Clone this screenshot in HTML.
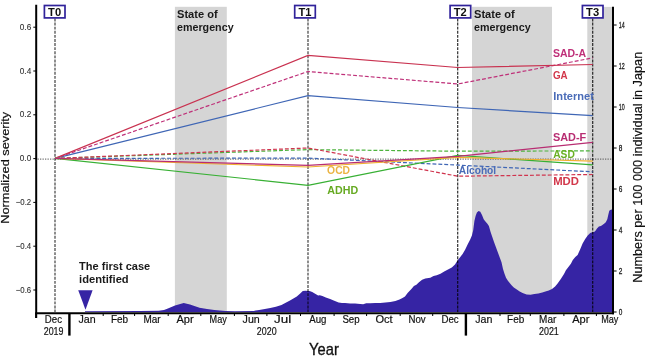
<!DOCTYPE html><html><head><meta charset="utf-8"><style>html,body{margin:0;padding:0;background:#fff;}svg{display:block;will-change:transform;}text{font-family:"Liberation Sans",sans-serif;}</style></head><body>
<svg width="645" height="356" viewBox="0 0 645 356">
<rect width="645" height="356" fill="#fff"/>
<rect x="174.9" y="6.8" width="51.9" height="305" fill="#d5d5d5"/>
<rect x="472" y="6.8" width="80" height="305" fill="#d5d5d5"/>
<rect x="587.3" y="6.9" width="24.8" height="305" fill="#d5d5d5"/>
<path d="M85.0,312.0 L85.0,311.2 L140.0,311.0 L158.6,310.8 L164.0,310.0 L167.9,308.6 L175.0,305.5 L183.7,303.0 L190.0,304.5 L199.5,307.7 L207.0,309.0 L214.4,310.0 L225.6,311.0 L235.0,311.2 L253.6,310.9 L259.2,310.0 L264.8,309.1 L270.3,308.1 L275.9,306.7 L281.5,304.9 L287.1,302.1 L290.0,300.6 L293.4,298.6 L296.8,296.5 L300.2,293.5 L302.8,291.1 L305.3,290.8 L309.6,291.0 L312.2,292.0 L315.6,294.0 L318.1,295.4 L319.8,295.2 L322.4,296.1 L325.8,297.4 L330.1,299.1 L334.3,300.8 L338.6,302.5 L342.0,303.1 L345.0,303.0 L350.1,303.4 L355.1,303.6 L360.2,304.0 L363.2,304.2 L366.2,303.3 L370.2,303.3 L375.3,303.1 L380.3,302.9 L385.4,302.6 L390.4,302.1 L395.4,301.1 L399.5,299.6 L402.5,298.1 L405.0,296.6 L407.6,292.9 L411.4,289.1 L413.9,286.0 L416.4,284.7 L419.0,282.2 L422.1,279.7 L425.3,278.4 L430.3,277.8 L433.5,275.9 L436.7,275.2 L440.5,273.7 L444.2,271.4 L448.0,269.5 L451.8,267.6 L455.0,264.6 L457.5,260.6 L460.1,257.3 L462.6,253.9 L465.1,249.7 L467.6,244.6 L470.2,239.6 L471.9,235.4 L473.2,230.3 L474.4,221.0 L475.6,216.0 L476.9,212.6 L478.6,210.9 L480.3,211.7 L482.0,215.1 L483.7,219.3 L485.0,221.0 L487.2,223.4 L488.9,226.0 L490.6,231.9 L492.3,236.9 L494.0,242.0 L496.5,248.7 L499.0,255.5 L501.5,262.2 L503.0,268.9 L504.5,273.8 L506.0,277.8 L507.9,280.7 L509.9,283.2 L511.8,285.6 L513.8,287.6 L516.8,289.6 L519.7,291.5 L522.6,293.0 L526.6,294.5 L530.5,294.7 L534.4,294.0 L538.4,293.5 L542.3,292.5 L546.2,291.3 L548.8,290.4 L552.0,288.9 L555.1,286.6 L557.6,283.4 L560.8,279.0 L564.0,274.0 L565.9,270.2 L568.4,267.0 L570.9,263.8 L572.8,260.1 L575.3,256.9 L577.6,255.0 L580.1,249.4 L582.6,243.5 L585.2,238.9 L587.7,235.5 L590.2,233.0 L592.3,232.2 L594.4,231.7 L595.3,230.9 L597.0,228.4 L598.9,226.6 L600.9,226.1 L602.4,225.1 L604.4,223.6 L605.8,222.2 L607.3,219.2 L608.3,214.8 L609.3,210.8 L610.3,209.9 L611.7,209.4 L612.5,209.4 L612.5,312.0 Z" fill="#3624a4"/>
<line x1="37.5" y1="159.1" x2="612" y2="159.1" stroke="#555" stroke-width="1" stroke-dasharray="1.3,1.2"/>
<line x1="55" y1="18.5" x2="55" y2="312" stroke="#000" stroke-opacity="0.62" stroke-width="1.45" stroke-dasharray="2.9,1.2"/>
<line x1="308" y1="18.5" x2="308" y2="312" stroke="#000" stroke-opacity="0.62" stroke-width="1.45" stroke-dasharray="2.9,1.2"/>
<line x1="457.7" y1="18.5" x2="457.7" y2="312" stroke="#000" stroke-opacity="0.82" stroke-width="1.2" stroke-dasharray="2.9,1.2"/>
<line x1="592.7" y1="18.5" x2="592.7" y2="312" stroke="#000" stroke-opacity="0.82" stroke-width="1.2" stroke-dasharray="2.9,1.2"/>
<polyline points="55,158.4 308,95.6 457.7,107.5 592.7,115.7" fill="none" stroke="#3f66b5" stroke-width="1.2"/>
<polyline points="55,158.4 308,71.5 457.7,84 592.7,57.9" fill="none" stroke="#bf3079" stroke-width="1.2" stroke-dasharray="3.9,2"/>
<polyline points="55,158.4 308,55.4 457.7,67.5 592.7,64.5" fill="none" stroke="#c93250" stroke-width="1.2"/>
<polyline points="55,158.4 308,149.6 457.7,151.2 592.7,150.9" fill="none" stroke="#4db33d" stroke-width="1.2" stroke-dasharray="3.9,2"/>
<polyline points="55,158.4 308,158.1 457.7,165.1 592.7,171.8" fill="none" stroke="#3f66b5" stroke-width="1.2" stroke-dasharray="3.9,2"/>
<polyline points="55,158.4 308,148 457.7,176.2 592.7,174.5" fill="none" stroke="#d0344e" stroke-width="1.2" stroke-dasharray="3.9,2"/>
<polyline points="55,158.4 308,185.3 457.7,155.3 592.7,164.9" fill="none" stroke="#38b034" stroke-width="1.2"/>
<polyline points="55,158.4 308,167 457.7,157.3 592.7,161.2" fill="none" stroke="#f0b030" stroke-width="1.2"/>
<polyline points="55,158.4 308,165.4 457.7,156.3 592.7,142.4" fill="none" stroke="#b82d72" stroke-width="1.2"/>
<text x="552.9" y="56.9" font-size="10.4" font-weight="bold" fill="#bf3079" textLength="33.3" lengthAdjust="spacingAndGlyphs">SAD-A</text>
<text x="552.9" y="79.0" font-size="10.4" font-weight="bold" fill="#d2374a" textLength="14.7" lengthAdjust="spacingAndGlyphs">GA</text>
<text x="553.3" y="100.4" font-size="10.4" font-weight="bold" fill="#4a6cb8" textLength="40.6" lengthAdjust="spacingAndGlyphs">Internet</text>
<text x="552.9" y="141.0" font-size="10.4" font-weight="bold" fill="#b82d72" textLength="33.3" lengthAdjust="spacingAndGlyphs">SAD-F</text>
<text x="553.2" y="157.6" font-size="10.4" font-weight="bold" fill="#6ab023" textLength="21.6" lengthAdjust="spacingAndGlyphs">ASD</text>
<text x="327.1" y="174.0" font-size="10.4" font-weight="bold" fill="#ebb444" textLength="23.0" lengthAdjust="spacingAndGlyphs">OCD</text>
<text x="327.3" y="193.7" font-size="10.4" font-weight="bold" fill="#66aa22" textLength="30.9" lengthAdjust="spacingAndGlyphs">ADHD</text>
<text x="458.8" y="174.1" font-size="10.4" font-weight="bold" fill="#4a6cb8" textLength="37.4" lengthAdjust="spacingAndGlyphs">Alcohol</text>
<text x="553.2" y="185.0" font-size="10.4" font-weight="bold" fill="#d2374a" textLength="25.8" lengthAdjust="spacingAndGlyphs">MDD</text>
<text x="177" y="17.6" font-size="10.2" font-weight="bold" fill="#1a1a1a" textLength="40.7" lengthAdjust="spacingAndGlyphs">State of</text>
<text x="177" y="30.5" font-size="10.2" font-weight="bold" fill="#1a1a1a" textLength="56.6" lengthAdjust="spacingAndGlyphs">emergency</text>
<text x="474" y="17.6" font-size="10.2" font-weight="bold" fill="#1a1a1a" textLength="40.7" lengthAdjust="spacingAndGlyphs">State of</text>
<text x="474" y="30.5" font-size="10.2" font-weight="bold" fill="#1a1a1a" textLength="56.6" lengthAdjust="spacingAndGlyphs">emergency</text>
<rect x="44.4" y="5.5" width="20.6" height="12.4" fill="#fff" stroke="#30229a" stroke-width="1.7"/>
<text x="54.6" y="15.8" font-size="10" font-weight="bold" fill="#111" text-anchor="middle" textLength="13" lengthAdjust="spacingAndGlyphs">T0</text>
<rect x="294.7" y="5.5" width="20.6" height="12.4" fill="#fff" stroke="#30229a" stroke-width="1.7"/>
<text x="304.9" y="15.8" font-size="10" font-weight="bold" fill="#111" text-anchor="middle" textLength="13" lengthAdjust="spacingAndGlyphs">T1</text>
<rect x="450.1" y="5.5" width="20.6" height="12.4" fill="#fff" stroke="#30229a" stroke-width="1.7"/>
<text x="460.3" y="15.8" font-size="10" font-weight="bold" fill="#111" text-anchor="middle" textLength="13" lengthAdjust="spacingAndGlyphs">T2</text>
<rect x="582.4" y="5.5" width="20.6" height="12.4" fill="#fff" stroke="#30229a" stroke-width="1.7"/>
<text x="592.6" y="15.8" font-size="10" font-weight="bold" fill="#111" text-anchor="middle" textLength="13" lengthAdjust="spacingAndGlyphs">T3</text>
<text x="79.1" y="269.6" font-size="10.2" font-weight="bold" fill="#1a1a1a" textLength="71.1" lengthAdjust="spacingAndGlyphs">The first case</text>
<text x="79.1" y="282.5" font-size="10.2" font-weight="bold" fill="#1a1a1a" textLength="49.6" lengthAdjust="spacingAndGlyphs">identified</text>
<path d="M78.2,290.2 L92.6,290.2 L85.5,309.8 Z" fill="#3624a4"/>
<line x1="36.2" y1="4.8" x2="36.2" y2="318" stroke="#000" stroke-width="2"/>
<line x1="613" y1="6.8" x2="613" y2="314.2" stroke="#000" stroke-width="2"/>
<line x1="35.2" y1="313.2" x2="614" y2="313.2" stroke="#000" stroke-width="2"/>
<line x1="33.3" y1="27.2" x2="36" y2="27.2" stroke="#000" stroke-width="1"/>
<text x="19.8" y="29.8" font-size="8.9" fill="#333" stroke="#333" stroke-width="0.12" textLength="11.4" lengthAdjust="spacingAndGlyphs">0.6</text>
<line x1="33.3" y1="71.0" x2="36" y2="71.0" stroke="#000" stroke-width="1"/>
<text x="19.8" y="73.6" font-size="8.9" fill="#333" stroke="#333" stroke-width="0.12" textLength="11.4" lengthAdjust="spacingAndGlyphs">0.4</text>
<line x1="33.3" y1="114.8" x2="36" y2="114.8" stroke="#000" stroke-width="1"/>
<text x="19.8" y="117.4" font-size="8.9" fill="#333" stroke="#333" stroke-width="0.12" textLength="11.4" lengthAdjust="spacingAndGlyphs">0.2</text>
<line x1="33.3" y1="158.6" x2="36" y2="158.6" stroke="#000" stroke-width="1"/>
<text x="19.8" y="161.2" font-size="8.9" fill="#333" stroke="#333" stroke-width="0.12" textLength="11.4" lengthAdjust="spacingAndGlyphs">0.0</text>
<line x1="33.3" y1="202.4" x2="36" y2="202.4" stroke="#000" stroke-width="1"/>
<text x="15.8" y="205.0" font-size="8.9" fill="#333" stroke="#333" stroke-width="0.12" textLength="15.4" lengthAdjust="spacingAndGlyphs">−0.2</text>
<line x1="33.3" y1="246.2" x2="36" y2="246.2" stroke="#000" stroke-width="1"/>
<text x="15.8" y="248.8" font-size="8.9" fill="#333" stroke="#333" stroke-width="0.12" textLength="15.4" lengthAdjust="spacingAndGlyphs">−0.4</text>
<line x1="33.3" y1="290.0" x2="36" y2="290.0" stroke="#000" stroke-width="1"/>
<text x="15.8" y="292.6" font-size="8.9" fill="#333" stroke="#333" stroke-width="0.12" textLength="15.4" lengthAdjust="spacingAndGlyphs">−0.6</text>
<line x1="613" y1="312.0" x2="616.6" y2="312.0" stroke="#000" stroke-width="1"/>
<text x="618.8" y="314.9" font-size="8.8" fill="#222" stroke="#222" stroke-width="0.3" textLength="3.6" lengthAdjust="spacingAndGlyphs">0</text>
<line x1="613" y1="271.0" x2="616.6" y2="271.0" stroke="#000" stroke-width="1"/>
<text x="618.8" y="273.9" font-size="8.8" fill="#222" stroke="#222" stroke-width="0.3" textLength="3.6" lengthAdjust="spacingAndGlyphs">2</text>
<line x1="613" y1="230.0" x2="616.6" y2="230.0" stroke="#000" stroke-width="1"/>
<text x="618.8" y="232.9" font-size="8.8" fill="#222" stroke="#222" stroke-width="0.3" textLength="3.6" lengthAdjust="spacingAndGlyphs">4</text>
<line x1="613" y1="189.0" x2="616.6" y2="189.0" stroke="#000" stroke-width="1"/>
<text x="618.8" y="191.9" font-size="8.8" fill="#222" stroke="#222" stroke-width="0.3" textLength="3.6" lengthAdjust="spacingAndGlyphs">6</text>
<line x1="613" y1="148.0" x2="616.6" y2="148.0" stroke="#000" stroke-width="1"/>
<text x="618.8" y="150.9" font-size="8.8" fill="#222" stroke="#222" stroke-width="0.3" textLength="3.6" lengthAdjust="spacingAndGlyphs">8</text>
<line x1="613" y1="107.0" x2="616.6" y2="107.0" stroke="#000" stroke-width="1"/>
<text x="618.8" y="109.9" font-size="8.8" fill="#222" stroke="#222" stroke-width="0.3" textLength="5.9" lengthAdjust="spacingAndGlyphs">10</text>
<line x1="613" y1="66.0" x2="616.6" y2="66.0" stroke="#000" stroke-width="1"/>
<text x="618.8" y="68.9" font-size="8.8" fill="#222" stroke="#222" stroke-width="0.3" textLength="5.9" lengthAdjust="spacingAndGlyphs">12</text>
<line x1="613" y1="25.0" x2="616.6" y2="25.0" stroke="#000" stroke-width="1"/>
<text x="618.8" y="27.9" font-size="8.8" fill="#222" stroke="#222" stroke-width="0.3" textLength="5.9" lengthAdjust="spacingAndGlyphs">14</text>
<text x="53.4" y="323.2" font-size="11.7" fill="#111" stroke="#111" stroke-width="0.2" text-anchor="middle" textLength="17.2" lengthAdjust="spacingAndGlyphs">Dec</text>
<line x1="69.4" y1="313" x2="69.4" y2="335.6" stroke="#000" stroke-width="2.4"/>
<text x="87.0" y="323.2" font-size="11.7" fill="#111" stroke="#111" stroke-width="0.2" text-anchor="middle" textLength="17.2" lengthAdjust="spacingAndGlyphs">Jan</text>
<line x1="103.2" y1="313" x2="103.2" y2="316" stroke="#000" stroke-width="1"/>
<text x="119.5" y="323.2" font-size="11.7" fill="#111" stroke="#111" stroke-width="0.2" text-anchor="middle" textLength="17.2" lengthAdjust="spacingAndGlyphs">Feb</text>
<line x1="134.6" y1="313" x2="134.6" y2="316" stroke="#000" stroke-width="1"/>
<text x="152.0" y="323.2" font-size="11.7" fill="#111" stroke="#111" stroke-width="0.2" text-anchor="middle" textLength="17.2" lengthAdjust="spacingAndGlyphs">Mar</text>
<line x1="168.2" y1="313" x2="168.2" y2="316" stroke="#000" stroke-width="1"/>
<text x="185.1" y="323.2" font-size="11.7" fill="#111" stroke="#111" stroke-width="0.2" text-anchor="middle" textLength="17.2" lengthAdjust="spacingAndGlyphs">Apr</text>
<line x1="200.8" y1="313" x2="200.8" y2="316" stroke="#000" stroke-width="1"/>
<text x="218.2" y="323.2" font-size="11.7" fill="#111" stroke="#111" stroke-width="0.2" text-anchor="middle" textLength="17.2" lengthAdjust="spacingAndGlyphs">May</text>
<line x1="234.4" y1="313" x2="234.4" y2="316" stroke="#000" stroke-width="1"/>
<text x="251.2" y="323.2" font-size="11.7" fill="#111" stroke="#111" stroke-width="0.2" text-anchor="middle" textLength="17.2" lengthAdjust="spacingAndGlyphs">Jun</text>
<line x1="266.9" y1="313" x2="266.9" y2="316" stroke="#000" stroke-width="1"/>
<text x="282.6" y="323.2" font-size="11.7" fill="#111" stroke="#111" stroke-width="0.2" text-anchor="middle" textLength="17.2" lengthAdjust="spacingAndGlyphs">Jul</text>
<line x1="300.5" y1="313" x2="300.5" y2="316" stroke="#000" stroke-width="1"/>
<text x="317.9" y="323.2" font-size="11.7" fill="#111" stroke="#111" stroke-width="0.2" text-anchor="middle" textLength="17.2" lengthAdjust="spacingAndGlyphs">Aug</text>
<line x1="334.1" y1="313" x2="334.1" y2="316" stroke="#000" stroke-width="1"/>
<text x="351.0" y="323.2" font-size="11.7" fill="#111" stroke="#111" stroke-width="0.2" text-anchor="middle" textLength="17.2" lengthAdjust="spacingAndGlyphs">Sep</text>
<line x1="366.6" y1="313" x2="366.6" y2="316" stroke="#000" stroke-width="1"/>
<text x="384.0" y="323.2" font-size="11.7" fill="#111" stroke="#111" stroke-width="0.2" text-anchor="middle" textLength="17.2" lengthAdjust="spacingAndGlyphs">Oct</text>
<line x1="400.2" y1="313" x2="400.2" y2="316" stroke="#000" stroke-width="1"/>
<text x="417.1" y="323.2" font-size="11.7" fill="#111" stroke="#111" stroke-width="0.2" text-anchor="middle" textLength="17.2" lengthAdjust="spacingAndGlyphs">Nov</text>
<line x1="432.7" y1="313" x2="432.7" y2="316" stroke="#000" stroke-width="1"/>
<text x="450.1" y="323.2" font-size="11.7" fill="#111" stroke="#111" stroke-width="0.2" text-anchor="middle" textLength="17.2" lengthAdjust="spacingAndGlyphs">Dec</text>
<line x1="465.9" y1="313" x2="465.9" y2="335.6" stroke="#000" stroke-width="2.4"/>
<text x="483.8" y="323.2" font-size="11.7" fill="#111" stroke="#111" stroke-width="0.2" text-anchor="middle" textLength="17.2" lengthAdjust="spacingAndGlyphs">Jan</text>
<line x1="500.0" y1="313" x2="500.0" y2="316" stroke="#000" stroke-width="1"/>
<text x="515.7" y="323.2" font-size="11.7" fill="#111" stroke="#111" stroke-width="0.2" text-anchor="middle" textLength="17.2" lengthAdjust="spacingAndGlyphs">Feb</text>
<line x1="530.3" y1="313" x2="530.3" y2="316" stroke="#000" stroke-width="1"/>
<text x="547.7" y="323.2" font-size="11.7" fill="#111" stroke="#111" stroke-width="0.2" text-anchor="middle" textLength="17.2" lengthAdjust="spacingAndGlyphs">Mar</text>
<line x1="563.9" y1="313" x2="563.9" y2="316" stroke="#000" stroke-width="1"/>
<text x="580.8" y="323.2" font-size="11.7" fill="#111" stroke="#111" stroke-width="0.2" text-anchor="middle" textLength="17.2" lengthAdjust="spacingAndGlyphs">Apr</text>
<line x1="596.4" y1="313" x2="596.4" y2="316" stroke="#000" stroke-width="1"/>
<text x="609.8" y="323.2" font-size="11.7" fill="#111" stroke="#111" stroke-width="0.2" text-anchor="middle" textLength="17.2" lengthAdjust="spacingAndGlyphs">May</text>
<line x1="36" y1="313" x2="36" y2="318" stroke="#000" stroke-width="1.5"/>
<text x="53.6" y="335.2" font-size="11.8" fill="#111" stroke="#111" stroke-width="0.2" text-anchor="middle" textLength="19.8" lengthAdjust="spacingAndGlyphs">2019</text>
<text x="266.7" y="335.2" font-size="11.8" fill="#111" stroke="#111" stroke-width="0.2" text-anchor="middle" textLength="19.8" lengthAdjust="spacingAndGlyphs">2020</text>
<text x="548.9" y="335.2" font-size="11.8" fill="#111" stroke="#111" stroke-width="0.2" text-anchor="middle" textLength="19.8" lengthAdjust="spacingAndGlyphs">2021</text>
<text x="309.1" y="354.7" font-size="17" fill="#111" stroke="#111" stroke-width="0.35" textLength="29.7" lengthAdjust="spacingAndGlyphs">Year</text>
<text transform="translate(9.2,167.75) rotate(-90)" font-size="11.5" fill="#111" stroke="#111" stroke-width="0.2" text-anchor="middle" textLength="112" lengthAdjust="spacingAndGlyphs">Normalized severity</text>
<text transform="translate(641.8,167.3) rotate(-90)" font-size="12.6" fill="#111" stroke="#111" stroke-width="0.2" text-anchor="middle" textLength="231" lengthAdjust="spacingAndGlyphs">Numbers per 100 000 individual in Japan</text>
</svg></body></html>
